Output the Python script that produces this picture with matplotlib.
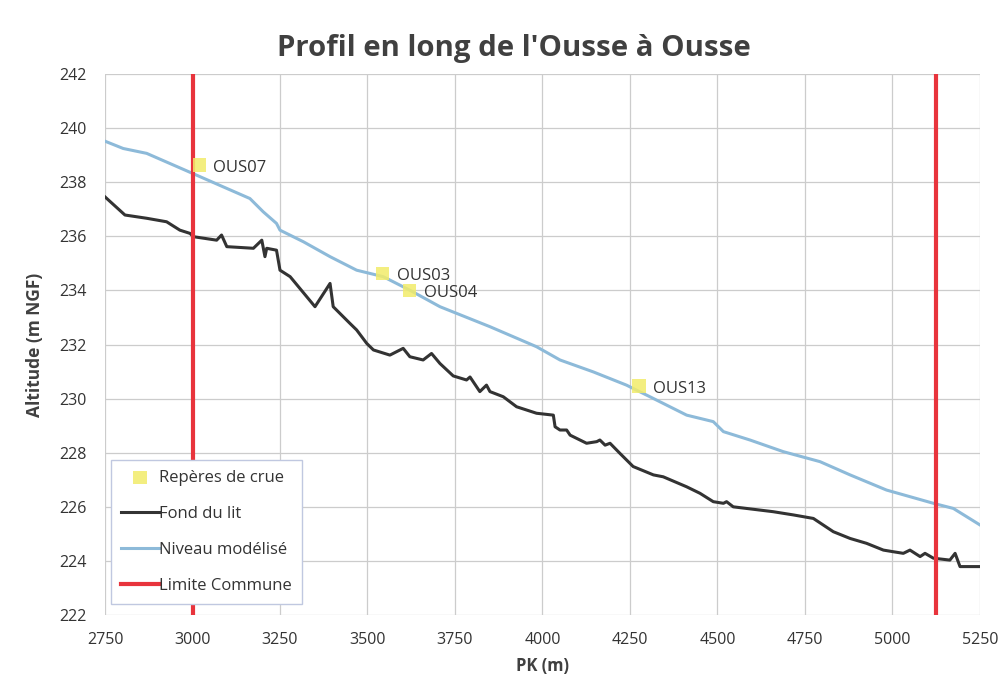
import matplotlib
matplotlib.use("Agg")
import matplotlib.pyplot as plt

plt.rcParams['font.family'] = ['Open Sans', 'DejaVu Sans']

# Niveau modélisé (water level)
niveau_pk = [2750, 2802, 2869, 3000, 3088, 3164, 3202, 3240, 3250, 3317, 3393, 3469,
             3545, 3621, 3707, 3850, 3983, 4050, 4145, 4240, 4307, 4412, 4488, 4517,
             4593, 4688, 4793, 4879, 4983, 5117, 5174, 5250]
niveau_z = [239.52, 239.25, 239.07, 238.33, 237.83, 237.40, 236.91, 236.48, 236.23,
            235.80, 235.25, 234.75, 234.51, 234.01, 233.40, 232.66, 231.92, 231.43,
            230.99, 230.50, 230.07, 229.39, 229.15, 228.78, 228.47, 228.04, 227.67,
            227.18, 226.62, 226.13, 225.94, 225.33]

# Fond du lit (river bed)
fond_pk = [2750, 2807, 2869, 2926, 2964, 2993, 3002, 3069, 3083, 3098, 3174, 3198,
           3207, 3212, 3240, 3250, 3279, 3350, 3393, 3402, 3450, 3469, 3498, 3517,
           3564, 3602, 3621, 3659, 3683, 3707, 3745, 3783, 3793, 3821, 3840, 3850,
           3888, 3926, 3983, 4031, 4036, 4050, 4069, 4079, 4126, 4155, 4164, 4179,
           4193, 4221, 4259, 4317, 4345, 4412, 4450, 4488, 4517, 4526, 4545, 4583,
           4659, 4717, 4774, 4831, 4879, 4926, 4974, 5002, 5031, 5050, 5079, 5093,
           5117, 5164, 5179, 5193, 5250]
fond_z = [237.46, 236.79, 236.67, 236.54, 236.23, 236.11, 235.99, 235.86, 236.05,
          235.62, 235.56, 235.86, 235.25, 235.56, 235.49, 234.75, 234.51, 233.40,
          234.26, 233.40, 232.78, 232.54, 232.04, 231.80, 231.61, 231.86, 231.55,
          231.43, 231.67, 231.30, 230.84, 230.69, 230.80, 230.26, 230.50, 230.26,
          230.07, 229.70, 229.46, 229.39, 228.96, 228.84, 228.84, 228.65, 228.35,
          228.41, 228.47, 228.28, 228.35, 227.98, 227.49, 227.18, 227.11, 226.74,
          226.50, 226.19, 226.13, 226.19, 226.00, 225.94, 225.82, 225.70, 225.57,
          225.08, 224.83, 224.65, 224.40, 224.34, 224.28, 224.40, 224.16, 224.28,
          224.10, 224.03, 224.28, 223.79, 223.79]

# Repères de crue (flood marks)
reperes_names = ["OUS07", "OUS03", "OUS04", "OUS13"]
reperes_pk = [3019, 3544, 3621, 4276]
reperes_z = [238.64, 234.64, 234.01, 230.47]

# Limite Commune
limites_pk = [3000, 5125]

xticks = [2750, 3000, 3250, 3500, 3750, 4000, 4250, 4500, 4750, 5000, 5250]
yticks = [222, 224, 226, 228, 230, 232, 234, 236, 238, 240, 242]

fig = plt.figure(figsize=(10.02, 6.8), dpi=100)
ax = fig.add_axes([0.1048, 0.0956, 0.8732, 0.7954])

ax.plot(fond_pk, fond_z, color='#333333', lw=2.2, label='Fond du lit', zorder=3)
ax.plot(niveau_pk, niveau_z, color='#8dbad9', lw=2.2, label='Niveau modélisé', zorder=3)
for i, pk in enumerate(limites_pk):
    ax.axvline(pk, color='#e8343c', lw=3, zorder=4,
               label='Limite Commune' if i == 0 else None)
ax.scatter(reperes_pk, reperes_z, marker='s', s=90, color='#f2ec6a', alpha=0.85,
           edgecolors='none', zorder=5, label='Repères de crue')
for name, pk, z in zip(reperes_names, reperes_pk, reperes_z):
    ax.annotate(name, (pk, z), xytext=(10, -2), textcoords='offset points',
                ha='left', va='center', fontsize=12, color='#333333', zorder=6)

ax.set_xlim(2750, 5250)
ax.set_ylim(222, 242)
ax.set_xticks(xticks)
ax.set_yticks(yticks)
ax.tick_params(axis='x', labelsize=11.5, colors='#333333', length=0, pad=12)
ax.tick_params(axis='y', labelsize=11.5, colors='#333333', length=0, pad=13)
ax.grid(True, color='#cccccc', lw=0.9)
for s in ax.spines.values():
    s.set_visible(False)

fig.text(0.513, 0.929, "Profil en long de l'Ousse à Ousse", fontsize=21.2,
         fontweight='bold', color='#404040', ha='center', va='center')
ax.set_xlabel("PK (m)", fontsize=12, fontweight='bold', color='#404040', labelpad=7)
ax.set_ylabel("Altitude (m NGF)", fontsize=12.5, fontweight='bold', color='#404040',
              labelpad=11)

handles, labels = ax.get_legend_handles_labels()
order = [labels.index(l) for l in ['Repères de crue', 'Fond du lit',
                                    'Niveau modélisé', 'Limite Commune']]
leg = ax.legend([handles[i] for i in order], [labels[i] for i in order],
                loc='lower left', bbox_to_anchor=(0.0, 0.01), fontsize=12,
                frameon=True, fancybox=False, edgecolor='#c0c8e0', framealpha=1,
                handlelength=2.3, handletextpad=0.0, labelspacing=1.19,
                borderpad=0.6, borderaxespad=0.35)
for t in leg.get_texts():
    t.set_color('#333333')

fig.savefig("out.png", dpi=100)
